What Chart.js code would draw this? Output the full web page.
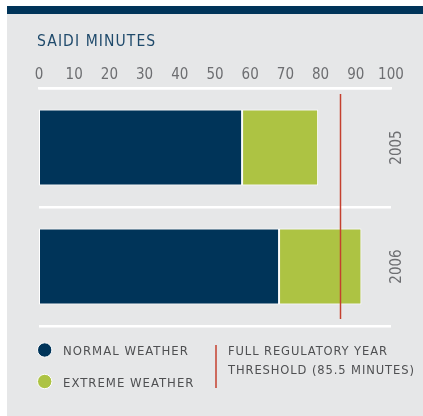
<!DOCTYPE html>
<html>
<head>
<meta charset="utf-8">
<script src="https://cdn.jsdelivr.net/npm/chart.js@4"></script>
<style>
  html, body { margin: 0; padding: 0; background: #ffffff; }
  #wrap { position: relative; width: 423px; height: 416px; }
  canvas { display: block; }
</style>
</head>
<body>
<div id="wrap"><canvas id="c" width="423" height="416"></canvas></div>
<script>
const years = ['2005', '2006'];
const normalWeather = [57.7, 68.2];
const extremeWeather = [21.6, 23.4];
const thresholdMinutes = 85.5;
const xTickValues = [0, 10, 20, 30, 40, 50, 60, 70, 80, 90, 100];
const titleText = 'SAIDI MINUTES';
const legendNormal = 'NORMAL WEATHER';
const legendExtreme = 'EXTREME WEATHER';
const legendThreshold = ['FULL REGULATORY YEAR', 'THRESHOLD (85.5 MINUTES)'];

const NAVY = '#003459';
const GREEN = '#adc343';
const RED = '#c4402f';
const PANEL = '#e6e7e8';
const TICK = '#6d6e71';
const TEXT = '#4f5052';
const FONT = '"DejaVu Sans Condensed", "Liberation Sans Narrow", Roboto, sans-serif';

const decor = {
  id: 'decor',
  beforeDraw(chart) {
    const ctx = chart.ctx;
    ctx.save();
    ctx.fillStyle = '#ffffff';
    ctx.fillRect(0, 0, chart.width, chart.height);
    ctx.fillStyle = PANEL;
    ctx.fillRect(7, 14, chart.width - 7, chart.height - 14);
    ctx.fillStyle = NAVY;
    ctx.fillRect(7, 6, chart.width - 7, 8);
    // title
    ctx.fillStyle = '#1f4a6b';
    ctx.font = '15.5px ' + FONT;
    ctx.letterSpacing = '1.1px';
    ctx.textBaseline = 'alphabetic';
    ctx.textAlign = 'left';
    ctx.fillText(titleText, 37, 45.5);
    ctx.restore();
  },
  afterDatasetsDraw(chart) {
    const ctx = chart.ctx;
    const xs = chart.scales.x, ys = chart.scales.y;
    const area = chart.chartArea;
    ctx.save();
    // threshold line
    const tx = Math.round(xs.getPixelForValue(thresholdMinutes)) + 0.5;
    ctx.strokeStyle = RED;
    ctx.lineWidth = 1.5;
    ctx.beginPath();
    ctx.moveTo(tx, area.top + 6);
    ctx.lineTo(tx, area.bottom - 7);
    ctx.stroke();
    // year labels
    ctx.fillStyle = TICK;
    ctx.font = '15px ' + FONT;
    ctx.textAlign = 'center';
    ctx.textBaseline = 'middle';
    years.forEach((y, i) => {
      const py = ys.getPixelForValue(i);
      ctx.save();
      ctx.translate(397, py);
      ctx.rotate(-Math.PI / 2);
      ctx.fillText(y, 0, 0);
      ctx.restore();
    });
    // legend
    const items = [[legendNormal, NAVY, 355, 350], [legendExtreme, GREEN, 386.5, 381.5]];
    items.forEach(([label, col, base, cy]) => {
      ctx.beginPath();
      ctx.arc(44.7, cy, 7.2, 0, Math.PI * 2);
      ctx.fillStyle = col;
      ctx.fill();
      ctx.strokeStyle = '#ffffff';
      ctx.lineWidth = 1;
      ctx.stroke();
      ctx.fillStyle = TEXT;
      ctx.font = '13px ' + FONT;
      ctx.letterSpacing = '1px';
      ctx.textAlign = 'left';
      ctx.textBaseline = 'alphabetic';
      ctx.fillText(label, 63, base);
    });
    ctx.strokeStyle = RED;
    ctx.lineWidth = 1.5;
    ctx.beginPath();
    ctx.moveTo(216, 345);
    ctx.lineTo(216, 388);
    ctx.stroke();
    ctx.fillStyle = TEXT;
    ctx.font = '12.8px ' + FONT;
    ctx.letterSpacing = '0.9px';
    ctx.fillText(legendThreshold[0], 228, 355);
    ctx.fillText(legendThreshold[1], 228, 374);
    ctx.restore();
  }
};

new Chart(document.getElementById('c'), {
  type: 'bar',
  data: {
    labels: years,
    datasets: [
      { label: legendNormal, data: normalWeather, backgroundColor: NAVY, borderColor: '#ffffff', borderWidth: 1, borderSkipped: false, categoryPercentage: 0.8, barPercentage: 0.8 },
      { label: legendExtreme, data: extremeWeather, backgroundColor: GREEN, borderColor: '#ffffff', borderWidth: 1, borderSkipped: false, categoryPercentage: 0.8, barPercentage: 0.8 }
    ]
  },
  options: {
    indexAxis: 'y',
    responsive: false,
    animation: false,
    layout: { padding: { left: 39, right: 32, top: 62, bottom: 90 } },
    plugins: { legend: { display: false }, tooltip: { enabled: false }, title: { display: false } },
    scales: {
      x: {
        position: 'top',
        stacked: true,
        min: 0,
        max: 100,
        afterBuildTicks(scale) { scale.ticks = xTickValues.map(v => ({ value: v })); },
        ticks: { color: TICK, font: { family: FONT, size: 15 }, padding: 4, maxRotation: 0 },
        grid: { display: false, drawTicks: false },
        border: { display: true, color: '#ffffff', width: 2.5 }
      },
      y: {
        stacked: true,
        offset: true,
        ticks: { display: false },
        grid: { offset: true, color: '#ffffff', lineWidth: 2.5, drawTicks: false },
        border: { display: false }
      }
    }
  },
  plugins: [decor]
});
</script>
</body>
</html>
